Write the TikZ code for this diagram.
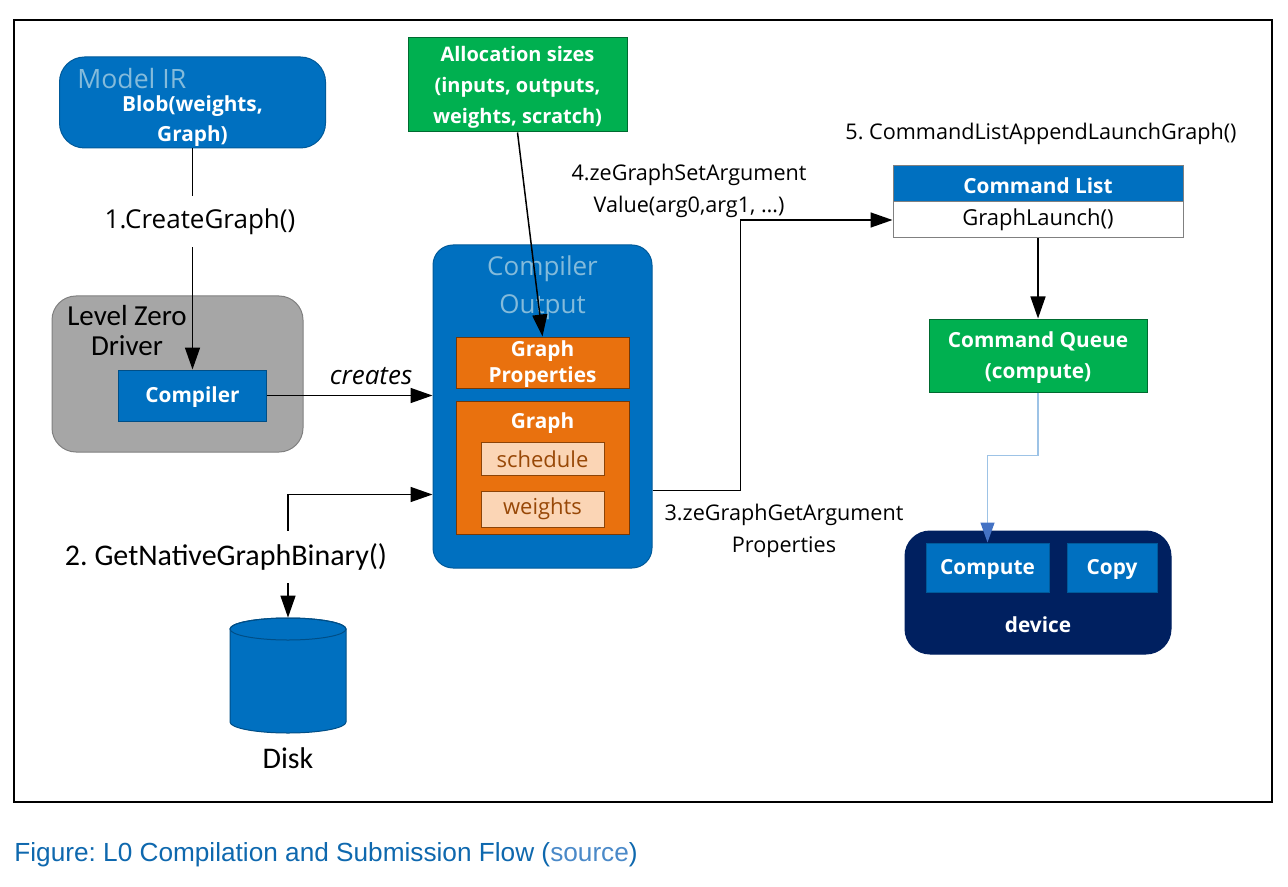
\documentclass[tikz,border=0pt]{standalone}
\usepackage{fontspec}
\setmainfont{Open Sans}
\newfontfamily\calibfont{Carlito}
\newfontfamily\capfont{Liberation Sans}
\usetikzlibrary{arrows.meta}
\frenchspacing
\definecolor{irblue}{HTML}{0070C0}
\definecolor{titleblue}{HTML}{84BBDB}
\definecolor{l0gray}{HTML}{A6A6A6}
\definecolor{allocgreen}{HTML}{00B050}
\definecolor{graphorange}{HTML}{E9710E}
\definecolor{peach}{HTML}{FBD5B5}
\definecolor{peachtext}{HTML}{984807}
\definecolor{devnavy}{HTML}{002060}
\definecolor{linkblue}{HTML}{9DC3E6}
\definecolor{headblue}{HTML}{4472C4}
\definecolor{capblue}{HTML}{0E68AE}
\definecolor{srcblue}{HTML}{4A89C8}
\tikzset{
  box/.style={rectangle, inner sep=0pt, align=center, line width=0.5pt},
  boldtxt/.style={text=white, inner sep=0pt, align=center, font=\fontsize{10.4}{15}\selectfont\bfseries},
  plaintxt/.style={inner sep=0pt, align=center, font=\fontsize{10.8}{16}\selectfont},
  arr/.style={line width=0.75pt, -{Triangle[length=11pt,width=7.5pt]}}
}
\begin{document}
\begin{tikzpicture}[x=0.5pt,y=-0.5pt]
  \useasboundingbox (0,0) rectangle (1288,887);
  \draw [line width=0.6pt] (14,20) rectangle (1272,802);
  % model IR
  \node [box,fill=irblue,draw=irblue!80!black,rounded corners=12.5pt,minimum width=133pt,minimum height=45.5pt] (modelir) at (192.5,102.5) {};
  \node [anchor=west,inner sep=0pt,text=titleblue,font=\fontsize{13.3}{16}\selectfont] (modeltitle) at (77,79) {Model IR};
  \node [boldtxt] (modeltext) at (192.5,121) {Blob(weights,\\Graph)};
  \node [plaintxt,font=\fontsize{13}{16}\selectfont,minimum height=25.5pt] (createlbl) at (200,221.5) {1.CreateGraph()};
  % level zero driver
  \node [box,fill=l0gray,draw=gray,rounded corners=12pt,minimum width=125.5pt,minimum height=78pt] (l0driver) at (177.5,374) {};
  \node [inner sep=0pt,align=center,font=\calibfont\fontsize{14.5}{15}\selectfont] (l0text) at (127,331) {Level Zero\\Driver};
  \node [box,fill=irblue,draw=irblue!70!black,minimum width=74pt,minimum height=25.5pt] (compiler) at (192.5,395.5) {};
  \node [boldtxt] (compilerlbl) at (192.5,397.5) {Compiler};
  % compiler output
  \node [box,fill=irblue,draw=irblue!80!black,rounded corners=10pt,minimum width=109.5pt,minimum height=161.5pt] (compout) at (542.5,406.5) {};
  \node [inner sep=0pt,align=center,text=titleblue,font=\fontsize{13}{19}\selectfont] (compouttitle) at (542.5,287.5) {Compiler\\Output};
  \node [box,fill=graphorange,draw=graphorange!50!black,minimum width=86.5pt,minimum height=25.5pt] (gprops) at (542.5,362.5) {};
  \node [boldtxt,font=\fontsize{10.4}{13}\selectfont\bfseries] (gpropslbl) at (542.5,364.5) {Graph\\Properties};
  \node [box,fill=graphorange,draw=graphorange!50!black,minimum width=86.5pt,minimum height=66.5pt] (graph) at (542.5,467.5) {};
  \node [boldtxt] (graphlbl) at (542.5,423) {Graph};
  \node [box,fill=peach,draw=graphorange!60!black,text=peachtext,font=\fontsize{11}{13}\selectfont,minimum width=61.5pt,minimum height=16.75pt] (schedule) at (542.5,459) {schedule};
  \node [box,fill=peach,draw=graphorange!60!black,text=peachtext,font=\fontsize{11}{13}\selectfont,minimum width=61.5pt,minimum height=18pt] (weights) at (542.5,509) {weights};
  \node [box,fill=allocgreen,draw=allocgreen!60!black,minimum width=109.5pt,minimum height=47pt] (alloc) at (517.5,85) {};
  \node [boldtxt,font=\fontsize{10}{15.5}\selectfont\bfseries] (alloclbl) at (517.5,87.5) {Allocation sizes\\(inputs, outputs,\\weights, scratch)};
  % command list and queue
  \node [plaintxt] (launchlbl) at (1041,134) {5. CommandListAppendLaunchGraph()};
  \node [box,fill=irblue,draw=gray,minimum width=145pt,minimum height=18pt] (cmdhead) at (1038,184) {};
  \node [boldtxt] (cmdheadlbl) at (1038,186) {Command List};
  \node [box,fill=white,draw=gray,minimum width=145pt,minimum height=18pt,font=\fontsize{11}{13}\selectfont] (launchrow) at (1038,220) {GraphLaunch()};
  \node [box,fill=allocgreen,draw=allocgreen!60!black,minimum width=109pt,minimum height=36.5pt] (cmdq) at (1038,355.5) {};
  \node [boldtxt,font=\fontsize{10.4}{15.5}\selectfont\bfseries] (cmdqlbl) at (1038,358) {Command Queue\\(compute)};
  \node [box,fill=devnavy,draw=devnavy,rounded corners=12.5pt,minimum width=133pt,minimum height=61.5pt] (device) at (1038,592.5) {};
  \node [box,fill=irblue,draw=irblue!80!black,minimum width=61.5pt,minimum height=24.5pt] (compute) at (987.5,567.5) {};
  \node [boldtxt] (computelbl) at (987.5,569.5) {Compute};
  \node [box,fill=irblue,draw=irblue!80!black,minimum width=45pt,minimum height=24.5pt] (copy) at (1112,567.5) {};
  \node [boldtxt] (copylbl) at (1112,569.5) {Copy};
  \node [boldtxt] (devlbl) at (1038,625) {device};
  % labels
  \node [plaintxt] (setarg) at (689,191) {4.zeGraphSetArgument\\Value(arg0,arg1, …)};
  \node [plaintxt] (getarg) at (784,531) {3.zeGraphGetArgument\\Properties};
  \node [inner sep=0pt,font=\fontsize{13}{16}\selectfont\itshape] (createslbl) at (371,376) {creates};
  \node [inner sep=0pt,minimum height=26pt,font=\calibfont\fontsize{15}{16}\selectfont] (gnlbl) at (226,557) {2. GetNativeGraphBinary()};
  % disk
  \node [inner sep=0pt,minimum width=58pt,minimum height=57.5pt] (disk) at (288,675.5) {};
  \draw [fill=irblue,draw=irblue!70!black,line width=0.5pt] (230,629) -- (230,722) arc[start angle=180,end angle=360,x radius=29pt,y radius=5.5pt] -- (346,629) arc[start angle=0,end angle=180,x radius=29pt,y radius=5.5pt] -- cycle;
  \draw [draw=irblue!70!black,line width=0.5pt] (288,629) ellipse [x radius=29pt,y radius=5.5pt];
  \node [inner sep=0pt,font=\calibfont\fontsize{15}{16}\selectfont] (disklbl) at (288,758) {Disk};
  % connectors
  \draw [line width=0.75pt] (modelir.south) -- (modelir.south |- createlbl.north);
  \draw [arr] (compiler.north |- createlbl.south) -- (compiler.north);
  \draw [arr] (compiler.east) -- (compout.west |- compiler.east);
  \draw [arr] (alloc.south) -- (gprops.north);
  \draw [arr] (disk.north |- gnlbl.north) |- ([yshift=-44pt]compout.west);
  \draw [arr] (disk.north |- gnlbl.south) -- (disk.north);
  \draw [arr] ([yshift=-42pt]compout.east) -| ([xshift=-76pt]launchrow.west) -- (launchrow.west);
  \draw [arr] (launchrow.south) -- (cmdq.north);
  \draw [line width=0.6pt,linkblue,-{Triangle[length=10pt,width=7pt,color=headblue]}] (cmdq.south) -- ++(0,63) -| (compute.north);
  % caption
  \node [anchor=west,inner sep=0pt,text=capblue,font=\capfont\fontsize{13.1}{15}\selectfont] (caption) at (14,855) {Figure: L0 Compilation and Submission Flow (\textcolor{srcblue}{source})};
\end{tikzpicture}
\end{document}
